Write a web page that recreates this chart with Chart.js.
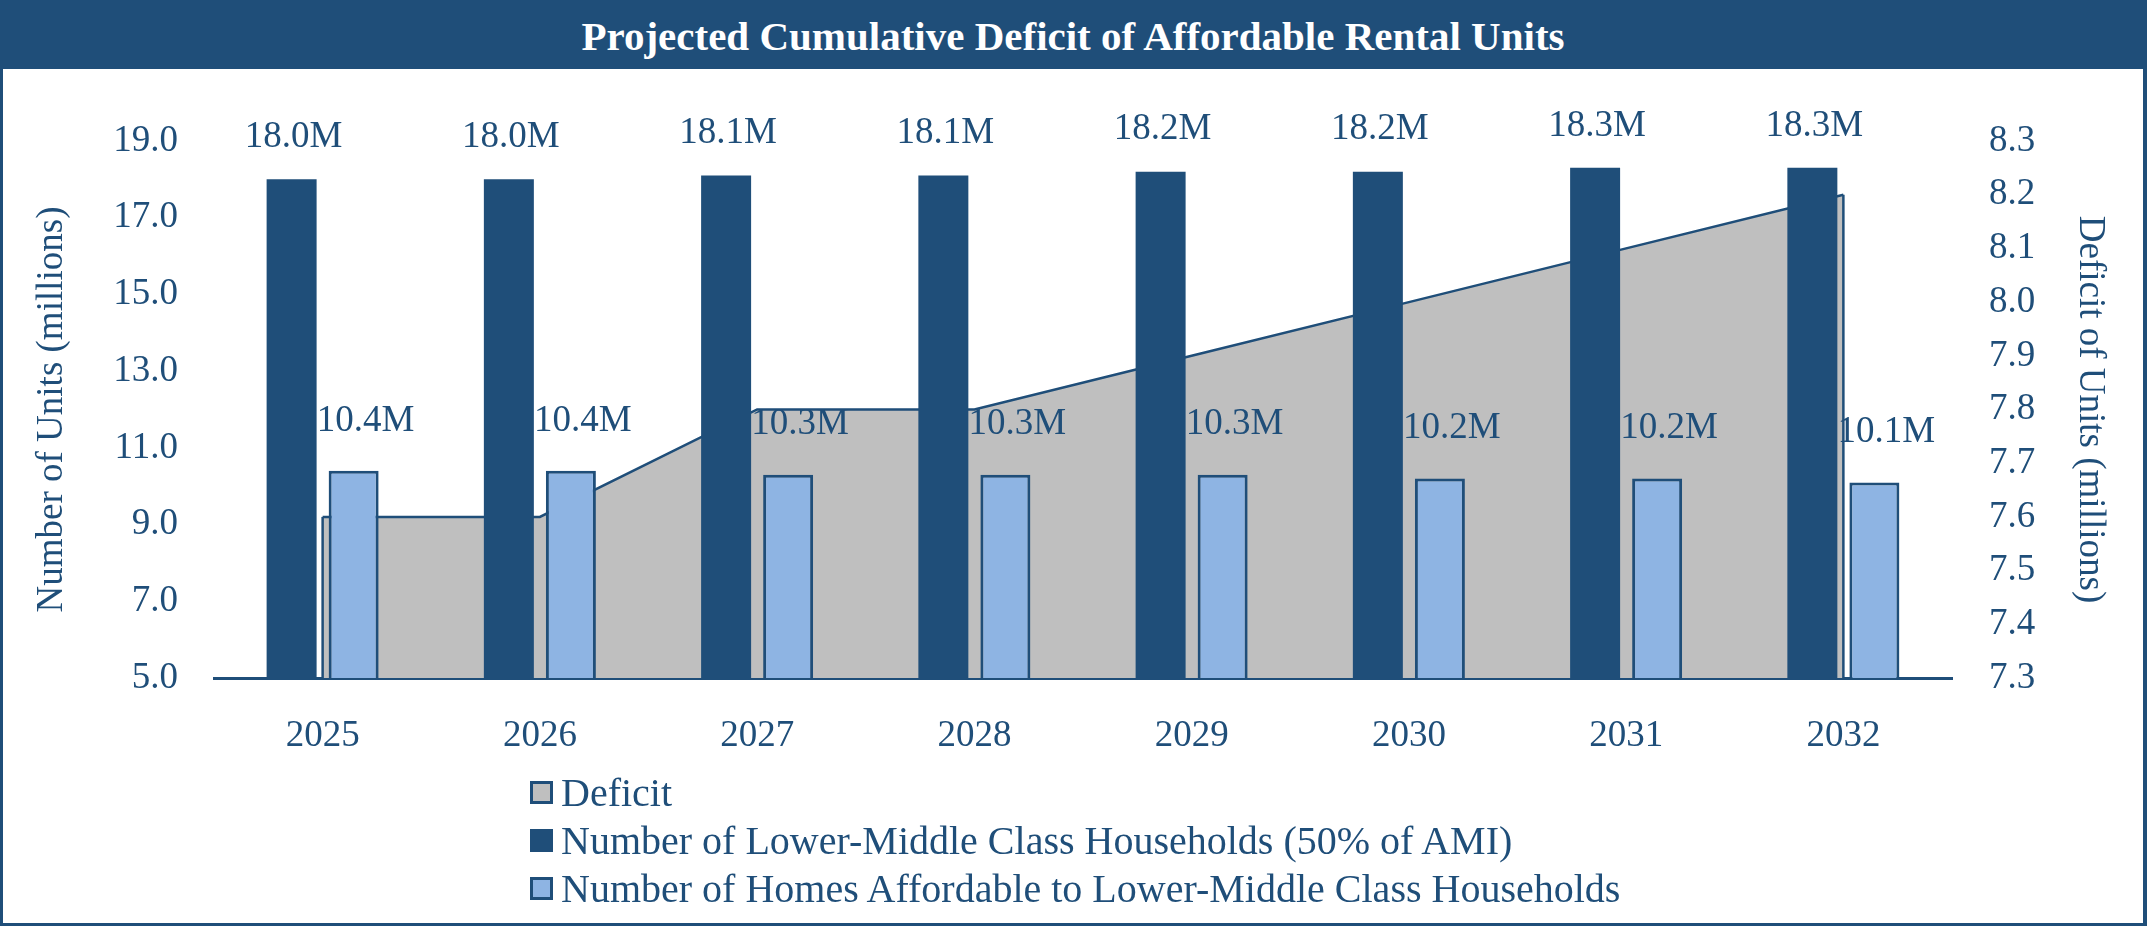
<!DOCTYPE html>
<html>
<head>
<meta charset="utf-8">
<script src="https://cdn.jsdelivr.net/npm/chart.js@4.4.1/dist/chart.umd.min.js"></script>
<style>
  html, body { margin: 0; padding: 0; background: #fff; }
  #frame {
    position: relative; width: 2147px; height: 926px; box-sizing: border-box;
    border-left: 3px solid #1F4E79; border-right: 4px solid #1F4E79; border-bottom: 3px solid #1F4E79;
    overflow: hidden; font-family: "Liberation Serif", serif;
  }
  #title {
    position: absolute; left: 0; top: 0; width: 2140px; height: 69px; box-sizing: border-box;
    padding-top: 3px; background: #1F4E79; color: #fff; font-weight: bold; font-size: 41px;
    display: flex; align-items: center; justify-content: center;
  }
  #chart-wrap { position: absolute; left: 0; top: 69px; width: 2140px; height: 700px; }
  #legend { position: absolute; left: 527px; top: 768px; color: #1F4E79; font-size: 40px; }
  .item { display: flex; align-items: center; height: 48px; white-space: nowrap; }
  .box { width: 23px; height: 23px; box-sizing: border-box; border: 3px solid #1F4E79; margin-right: 8px; }
</style>
</head>
<body>
<div id="frame">
  <div id="title">Projected Cumulative Deficit of Affordable Rental Units</div>
  <div id="chart-wrap"><canvas id="chart" width="2140" height="700"></canvas></div>
  <div id="legend"></div>
</div>
<script>
const years = ["2025", "2026", "2027", "2028", "2029", "2030", "2031", "2032"];
const households = [18.0, 18.0, 18.1, 18.1, 18.2, 18.2, 18.3, 18.3];
const affordable = [10.4, 10.4, 10.3, 10.3, 10.3, 10.2, 10.2, 10.1];
const deficit = [7.6, 7.6, 7.8, 7.8, 7.9, 8.0, 8.1, 8.2];

const leftAxis = { min: 5, max: 19, step: 2 };
const rightAxis = { min: 7.3, max: 8.3, step: 0.1 };

const navy = "#1F4E79";
const lightBlue = "#8EB4E3";
const gray = "#BFBFBF";
const font = { family: "Liberation Serif", size: 37 };

// value labels over the bars
const barLabels = {
  id: "barLabels",
  afterDatasetsDraw(chart) {
    const ctx = chart.ctx;
    ctx.save();
    ctx.font = '37px "Liberation Serif"';
    ctx.fillStyle = navy;
    ctx.textAlign = "center";
    ctx.textBaseline = "middle";
    [1, 2].forEach(di => {
      const vals = chart.data.datasets[di].data;
      chart.getDatasetMeta(di).data.forEach((bar, i) => {
        const dx = di === 2 ? 12 : 2;
        const dy = di === 2 ? 50 : 42;
        ctx.fillText(vals[i].toFixed(1) + "M", bar.x + dx, bar.y - dy);
      });
    });
    ctx.restore();
  }
};

// closing side edges of the deficit area
const areaEdges = {
  id: "areaEdges",
  afterDatasetDraw(chart, args) {
    if (args.index !== 0) return;
    const pts = args.meta.data;
    const bottom = chart.scales.y1.bottom;
    const ctx = chart.ctx;
    ctx.save();
    ctx.strokeStyle = navy;
    ctx.lineWidth = 2.5;
    [pts[0], pts[pts.length - 1]].forEach(p => {
      ctx.beginPath();
      ctx.moveTo(p.x, p.y);
      ctx.lineTo(p.x, bottom);
      ctx.stroke();
    });
    ctx.restore();
  }
};

const chart = new Chart(document.getElementById("chart"), {
  type: "bar",
  data: {
    labels: years,
    datasets: [
      {
        type: "line", label: "Deficit", data: deficit, yAxisID: "y1",
        borderColor: navy, borderWidth: 2.5, backgroundColor: gray,
        fill: "start", pointRadius: 0, tension: 0, order: 2
      },
      {
        label: "Number of Lower-Middle Class Households (50% of AMI)", data: households, yAxisID: "y",
        backgroundColor: navy, borderWidth: 0, order: 1,
        categoryPercentage: 0.571, barPercentage: 0.806
      },
      {
        label: "Number of Homes Affordable to Lower-Middle Class Households", data: affordable, yAxisID: "y",
        backgroundColor: lightBlue, borderColor: navy, borderWidth: 3, order: 1,
        categoryPercentage: 0.571, barPercentage: 0.806
      }
    ]
  },
  options: {
    responsive: false,
    animation: false,
    layout: { padding: { top: 72, left: 0, right: 0, bottom: 0 } },
    plugins: { legend: { display: false }, tooltip: { enabled: false } },
    scales: {
      x: {
        z: 1,
        grid: { display: false },
        border: { display: true, color: navy, width: 3 },
        ticks: { font: font, color: navy, padding: 28 },
        afterFit: s => { s.height = 91; }
      },
      y: {
        position: "left",
        min: leftAxis.min, max: leftAxis.max,
        grid: { display: false, drawTicks: false },
        border: { display: false },
        ticks: { stepSize: leftAxis.step, font: font, color: navy, padding: 36, callback: v => v.toFixed(1) },
        title: { display: true, text: "Number of Units (millions)", font: font, color: navy, padding: { top: 27, bottom: 0 } },
        afterFit: s => { s.width = 211; }
      },
      y1: {
        position: "right",
        min: rightAxis.min, max: rightAxis.max,
        grid: { display: false, drawTicks: false },
        border: { display: false },
        ticks: { stepSize: rightAxis.step, font: font, color: navy, padding: 37, callback: v => v.toFixed(1) },
        title: { display: true, text: "Deficit of Units (millions)", font: font, color: navy, padding: { top: 31, bottom: 0 } },
        afterFit: s => { s.width = 191; }
      }
    }
  },
  plugins: [areaEdges, barLabels]
});

// legend built from the datasets
const legend = document.getElementById("legend");
chart.data.datasets.forEach(ds => {
  const row = document.createElement("div");
  row.className = "item";
  const box = document.createElement("span");
  box.className = "box";
  box.style.background = ds.backgroundColor;
  box.style.borderColor = ds.borderWidth ? ds.borderColor : ds.backgroundColor;
  row.appendChild(box);
  row.appendChild(document.createTextNode(ds.label));
  legend.appendChild(row);
});
</script>
</body>
</html>
